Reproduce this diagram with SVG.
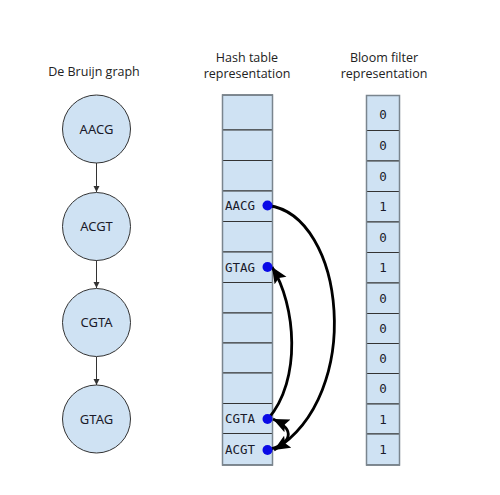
<svg xmlns="http://www.w3.org/2000/svg" width="500" height="495" viewBox="0 0 500 495">
<style>
.title{font-family:"Open Sans","Liberation Sans",sans-serif;font-size:12.5px;fill:#222;text-anchor:middle}
.node circle{fill:#cfe2f3;stroke:#333;stroke-width:1}
.node text{font-family:"Noto Sans","Liberation Sans",sans-serif;font-size:13px;fill:#1a1a2a;text-anchor:middle}
.cell{fill:#cfe2f3;stroke:#333;stroke-width:1}
.outer{fill:none;stroke:#7a858e;stroke-width:1.5}
.mono{font-family:"DejaVu Sans Mono","Liberation Mono",monospace;font-size:12.5px;fill:#1a1a2a}
.bit{text-anchor:middle}
.dot{fill:#0a0ae6}
.thin{fill:none;stroke:#333;stroke-width:1}
.thick{fill:none;stroke:#000;stroke-width:2.8}
</style>
<defs>
<marker id="sa" markerWidth="8" markerHeight="8" refX="6" refY="3" orient="auto" markerUnits="userSpaceOnUse">
<path d="M0,0 L6,3 L0,6 Z" fill="#333"/>
</marker>
<marker id="ba" markerWidth="20" markerHeight="16" refX="16" refY="7" orient="auto" markerUnits="userSpaceOnUse">
<path d="M0,0 L16,7 L0,14 L3,7 Z" fill="#000"/>
</marker>
</defs>
<rect width="500" height="495" fill="#fff"/>
<text class="title" x="94" y="76">De Bruijn graph</text>
<text class="title" x="247" y="62">Hash table</text>
<text class="title" x="247" y="78">representation</text>
<text class="title" x="384" y="62">Bloom filter</text>
<text class="title" x="384" y="78">representation</text>

<g id="dbg-connectors">
<line class="thin" x1="96.5" y1="163" x2="96.5" y2="192" marker-end="url(#sa)"/>
<line class="thin" x1="96.5" y1="260" x2="96.5" y2="288" marker-end="url(#sa)"/>
<line class="thin" x1="96.5" y1="357" x2="96.5" y2="385" marker-end="url(#sa)"/>
</g>
<g id="n-AACG" class="node"><circle cx="96.5" cy="129" r="34"/><text x="96.5" y="133.5">AACG</text></g>
<g id="n-ACGT" class="node"><circle cx="96.5" cy="226.5" r="34"/><text x="96.5" y="231">ACGT</text></g>
<g id="n-CGTA" class="node"><circle cx="96.5" cy="322.5" r="34"/><text x="96.5" y="327">CGTA</text></g>
<g id="n-GTAG" class="node"><circle cx="96.5" cy="419" r="34"/><text x="96.5" y="423.5">GTAG</text></g>

<g id="hash-table">
<rect class="cell" x="222.5" y="95" width="50" height="35"/>
<rect class="cell" x="222.5" y="130" width="50" height="30.5"/>
<rect class="cell" x="222.5" y="160.5" width="50" height="30.5"/>
<rect class="cell" x="222.5" y="191" width="50" height="30.5"/>
<rect class="cell" x="222.5" y="221.5" width="50" height="30.5"/>
<rect class="cell" x="222.5" y="252" width="50" height="30.5"/>
<rect class="cell" x="222.5" y="282.5" width="50" height="30.5"/>
<rect class="cell" x="222.5" y="313" width="50" height="30"/>
<rect class="cell" x="222.5" y="343" width="50" height="30"/>
<rect class="cell" x="222.5" y="373" width="50" height="30.5"/>
<rect class="cell" x="222.5" y="403.5" width="50" height="30"/>
<rect class="cell" x="222.5" y="433.5" width="50" height="31.5"/>
<rect class="outer" x="222.5" y="95" width="50" height="370"/>
<text class="mono" x="225" y="210">AACG</text>
<text class="mono" x="225" y="271.5">GTAG</text>
<text class="mono" x="225" y="423">CGTA</text>
<text class="mono" x="225" y="454">ACGT</text>
</g>

<g id="bloom-filter">
<rect class="cell" x="366.5" y="95.5" width="33" height="35"/>
<rect class="cell" x="366.5" y="130.5" width="33" height="30.5"/>
<rect class="cell" x="366.5" y="161" width="33" height="30.5"/>
<rect class="cell" x="366.5" y="191.5" width="33" height="30.5"/>
<rect class="cell" x="366.5" y="222" width="33" height="30.5"/>
<rect class="cell" x="366.5" y="252.5" width="33" height="30.5"/>
<rect class="cell" x="366.5" y="283" width="33" height="30.5"/>
<rect class="cell" x="366.5" y="313.5" width="33" height="30"/>
<rect class="cell" x="366.5" y="343.5" width="33" height="30"/>
<rect class="cell" x="366.5" y="373.5" width="33" height="30.5"/>
<rect class="cell" x="366.5" y="404" width="33" height="30"/>
<rect class="cell" x="366.5" y="434" width="33" height="31"/>
<rect class="outer" x="366.5" y="95.5" width="33" height="369.5"/>
<text class="mono bit" x="383" y="119">0</text>
<text class="mono bit" x="383" y="150">0</text>
<text class="mono bit" x="383" y="180.5">0</text>
<text class="mono bit" x="383" y="211">1</text>
<text class="mono bit" x="383" y="241.5">0</text>
<text class="mono bit" x="383" y="272">1</text>
<text class="mono bit" x="383" y="302.5">0</text>
<text class="mono bit" x="383" y="333">0</text>
<text class="mono bit" x="383" y="363">0</text>
<text class="mono bit" x="383" y="393">0</text>
<text class="mono bit" x="383" y="423.5">1</text>
<text class="mono bit" x="383" y="454">1</text>
</g>

<g id="hash-connectors">
<path class="thick" d="M268 205.5 C345 215, 365 395, 274 450" marker-end="url(#ba)"/>
<path class="thick" d="M268 450 C292 443, 296 430, 273 419" marker-end="url(#ba)"/>
<path class="thick" d="M268 419 C302 380, 296 305, 272 267" marker-end="url(#ba)"/>
</g>
<g id="dots">
<circle class="dot" cx="267.5" cy="205.5" r="5"/>
<circle class="dot" cx="267.5" cy="267" r="5"/>
<circle class="dot" cx="267.5" cy="419" r="5"/>
<circle class="dot" cx="267.5" cy="450" r="5"/>
</g>
</svg>
